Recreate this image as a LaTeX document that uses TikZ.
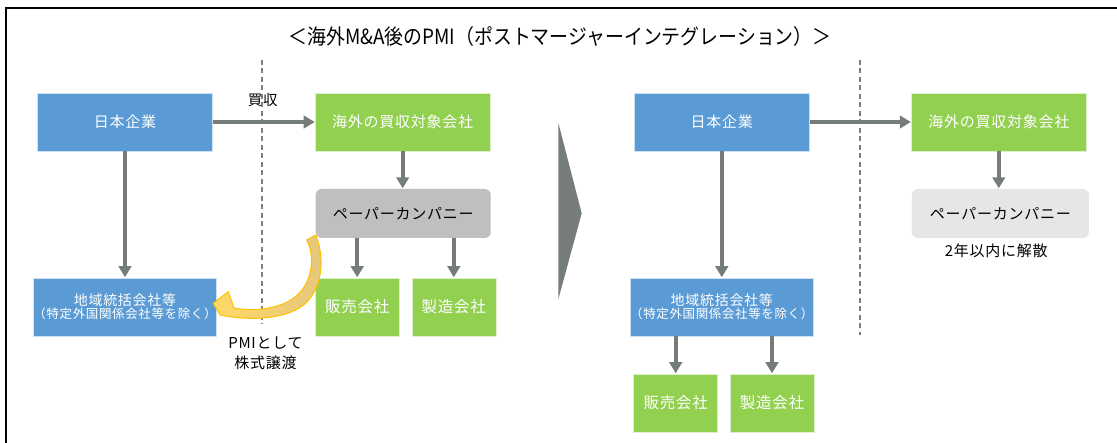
\documentclass[tikz,border=0pt]{standalone}
\usepackage{fontspec}
\setmainfont{Noto Sans CJK JP}
\usetikzlibrary{arrows.meta}
\definecolor{cblue}{HTML}{5B9BD5}
\definecolor{cgreen}{HTML}{92D050}
\definecolor{cgrayA}{HTML}{BFBFBF}
\definecolor{cgrayB}{HTML}{E7E6E6}
\definecolor{carrow}{HTML}{767C78}
\definecolor{cdash}{HTML}{7F7F7F}
\definecolor{cyel}{HTML}{FFD966}
\definecolor{cyelB}{HTML}{E5C77E}
\definecolor{corange}{HTML}{FFC000}
\newcommand{\fs}[2]{\fontsize{#1}{#2}\selectfont\addfontfeature{LetterSpace=5}}
\tikzset{
  box/.style={rectangle, inner sep=0pt, text=white, align=center, draw=white!70!#1, line width=0.5pt, fill=#1},
  bluebox/.style={box=cblue, minimum width=175pt, minimum height=58pt},
  greenwide/.style={box=cgreen, minimum width=174.5pt, minimum height=58pt},
  greensmall/.style={box=cgreen, minimum width=84pt, minimum height=58pt, font=\fs{15.5}{18}},
  paperbox/.style={rectangle, rounded corners=6pt, inner sep=0pt, text=black, minimum width=175pt, minimum height=49pt, font=\fs{15}{18}},
  flow/.style={draw=carrow, line width=4pt, -{Triangle[width=12.5pt,length=11pt]}, shorten >=0.5pt},
  divider/.style={draw=cdash, line width=1.1pt, dash pattern=on 5pt off 3.5pt},
  lbl/.style={text=black, inner sep=0pt, align=center},
}
\begin{document}
\begin{tikzpicture}[x=1pt,y=-1pt]
\useasboundingbox (0,0) rectangle (1117,443);
\fill[white] (0,0) rectangle (1117,443);
% frame
\draw[line width=2pt] (6,443) -- (6,8) -- (1117,8);
% title
\node[lbl] (title) at (560,37) {\scalebox{0.9}[1]{\fontsize{21}{24}\selectfont ＜海外M\&A後のPMI（ポストマージャーインテグレーション）＞}};
% dividers
\coordinate (dLt) at (262,60); \coordinate (dLb) at (262,324);
\coordinate (dRt) at (860,60); \coordinate (dRb) at (860,335);
\draw[divider] (dLt) -- (dLb);
\draw[divider] (dRt) -- (dRb);
% ---- left ----
\node[bluebox, font=\fs{15}{18}] (jpL) at (125,122) {日本企業};
\node[greenwide, font=\fs{15}{18}] (tgL) at (402.7,122) {海外の買収対象会社};
\node[paperbox, fill=cgrayA] (ppL) at (403.2,213.5) {ペーパーカンパニー};
\node[bluebox] (rgL) at (125,307) {{\fs{14}{17}地域統括会社等}\\[1pt]{\fs{12.5}{15}（特定外国関係会社等を除く）}};
\node[greensmall] (saL) at (357.2,307) {販売会社};
\node[greensmall] (mfL) at (453.8,307) {製造会社};
\node[lbl, font=\fs{14.5}{17}] (buy) at (262.7,100) {買収};
\node[lbl, font=\fs{15}{20}] (pmi) at (265.5,353) {PMIとして\\株式譲渡};
\draw[flow] (jpL.east) -- (tgL.west);
\draw[flow] (jpL.south) -- (rgL.north);
\draw[flow] (tgL.south) -- (tgL.south |- ppL.north);
\draw[flow] (ppL.south -| saL.north) -- (saL.north);
\draw[flow] (ppL.south -| mfL.north) -- (mfL.north);
% curved yellow transfer arrow
\path[draw=corange, line width=1pt, left color=cyel, right color=cyelB, line join=round]
  (315.7,235) .. controls (324,255) and (324,285) .. (306,303)
  .. controls (290,318) and (255,322) .. (220,315)
  -- (213.3,303.3) -- (228.3,291.7) -- (234,308)
  .. controls (262,313) and (290,306) .. (302,290)
  .. controls (312,277) and (315,256) .. (306.7,240) -- cycle;
% chevron
\fill[carrow] (558.3,122.7) -- (581.7,213.3) -- (558.3,299.3) -- cycle;
% ---- right ----
\node[bluebox, font=\fs{15}{18}] (jpR) at (721.8,122) {日本企業};
\node[greenwide, font=\fs{15}{18}] (tgR) at (998.8,122) {海外の買収対象会社};
\node[paperbox, fill=cgrayB, minimum width=177pt] (ppR) at (1000.4,213.5) {ペーパーカンパニー};
\node[lbl, font=\fs{15}{18}] (note) at (996.3,251) {2年以内に解散};
\node[bluebox] (rgR) at (721.8,307) {{\fs{14}{17}地域統括会社等}\\[1pt]{\fs{12.5}{15}（特定外国関係会社等を除く）}};
\node[greensmall] (saR) at (675.7,403) {販売会社};
\node[greensmall] (mfR) at (772,403) {製造会社};
\draw[flow] (jpR.east) -- (tgR.west);
\draw[flow] (jpR.south) -- (rgR.north);
\draw[flow] (tgR.south) -- (tgR.south |- ppR.north);
\draw[flow] (rgR.south -| saR.north) -- (saR.north);
\draw[flow] (rgR.south -| mfR.north) -- (mfR.north);
\end{tikzpicture}
\end{document}
